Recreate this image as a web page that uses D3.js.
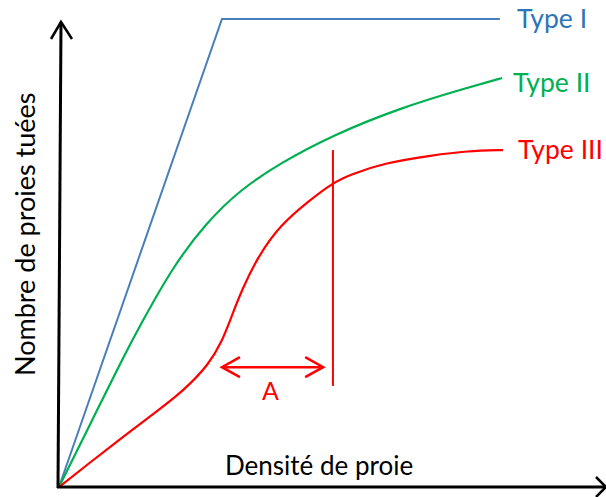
<!DOCTYPE html>
<html>
<head>
<meta charset="utf-8">
<script src="https://cdn.jsdelivr.net/npm/d3@7/dist/d3.min.js"></script>
<style>
  html, body { margin: 0; padding: 0; background: #fff; }
  svg { display: block; }
  text { font-family: Lato, "Open Sans", sans-serif; }
</style>
</head>
<body>
<svg id="chart" width="606" height="497"></svg>
<script>
// ---- Data (prey density vs. prey killed, arbitrary units 0-10) ----
const seriesNames = ["Type I", "Type II", "Type III"];
const typeIx = [0, 3.67, 9.93];
const typeIy = [0, 10, 10];
const typeIIx = [0, 0.68, 1.44, 1.82, 2.57, 3.33, 4.08, 4.98, 6.17, 7.68, 9.19, 9.98];
const typeIIy = [0, 1.30, 2.76, 3.44, 4.72, 5.66, 6.35, 6.92, 7.52, 8.10, 8.53, 8.74];
const typeIIIx = [0, 0.68, 1.44, 2.18, 2.64, 2.95, 3.36, 3.67, 3.90, 4.12, 4.46, 4.98, 5.65, 6.17, 6.55, 7.30, 8.42, 9.19, 10.0];
const typeIIIy = [0, 0.51, 1.07, 1.60, 1.94, 2.20, 2.61, 3.10, 3.68, 4.21, 4.89, 5.60, 6.13, 6.50, 6.67, 6.92, 7.09, 7.18, 7.20];
// annotation: threshold line and range "A"
const thresholdX = [6.17];
const thresholdY = [2.16, 7.20];
const rangeAx = [3.67, 5.95];
const rangeAy = [2.56];
const rangeLabel = ["A"];
const axisLabels = ["Densité de proie", "Nombre de proies tuées"];

const svg = d3.select("#chart");
const x = d3.scaleLinear().domain([0, 10]).range([59, 503]);
const y = d3.scaleLinear().domain([0, 10]).range([487, 19]);

const colors = { line1: "#4a7ebb", text1: "#2e75b6", green: "#00b050", red: "#ff0000" };

const line = d3.line().x(d => x(d[0])).y(d => y(d[1]));
const smooth = d3.line().x(d => x(d[0])).y(d => y(d[1])).curve(d3.curveBasis);

// Type I
svg.append("path").datum(d3.zip(typeIx, typeIy)).attr("d", line)
  .attr("fill", "none").attr("stroke", colors.line1).attr("stroke-width", 2);
// Type II
svg.append("path").datum(d3.zip(typeIIx, typeIIy)).attr("d", smooth)
  .attr("fill", "none").attr("stroke", colors.green).attr("stroke-width", 2.2);
// Type III
svg.append("path").datum(d3.zip(typeIIIx, typeIIIy)).attr("d", smooth)
  .attr("fill", "none").attr("stroke", colors.red).attr("stroke-width", 2.2);

// threshold vertical line
svg.append("line")
  .attr("x1", x(thresholdX[0])).attr("x2", x(thresholdX[0]))
  .attr("y1", y(thresholdY[0])).attr("y2", y(thresholdY[1]))
  .attr("stroke", colors.red).attr("stroke-width", 2);

// double arrow A
const ay = y(rangeAy[0]), ax1 = x(rangeAx[0]), ax2 = x(rangeAx[1]);
svg.append("line").attr("x1", ax1).attr("x2", ax2).attr("y1", ay).attr("y2", ay)
  .attr("stroke", colors.red).attr("stroke-width", 2.5);
svg.append("path")
  .attr("d", `M${ax1 + 18},${ay - 10} L${ax1},${ay} L${ax1 + 18},${ay + 10}`)
  .attr("fill", "none").attr("stroke", colors.red).attr("stroke-width", 2.5);
svg.append("path")
  .attr("d", `M${ax2 - 18},${ay - 10} L${ax2},${ay} L${ax2 - 18},${ay + 10}`)
  .attr("fill", "none").attr("stroke", colors.red).attr("stroke-width", 2.5);
svg.append("text").attr("x", (ax1 + ax2) / 2 - 2).attr("y", 400)
  .attr("text-anchor", "middle").attr("font-size", 25).attr("fill", colors.red)
  .text(rangeLabel[0]);

// axes
const x0 = x(0), y0 = y(0);
svg.append("line").attr("x1", x0 - 1).attr("y1", y0 + 1).attr("x2", 61).attr("y2", 22)
  .attr("stroke", "#000").attr("stroke-width", 3);
svg.append("path").attr("d", `M51,39 L61,22 L72,39`)
  .attr("fill", "none").attr("stroke", "#000").attr("stroke-width", 2.5);
svg.append("line").attr("x1", x0 - 2).attr("y1", y0).attr("x2", 606).attr("y2", y0)
  .attr("stroke", "#000").attr("stroke-width", 3);
svg.append("path").attr("d", `M596,${y0 - 10} L606,${y0} L596,${y0 + 10}`)
  .attr("fill", "none").attr("stroke", "#000").attr("stroke-width", 2.5);

// axis labels
svg.append("text").attr("x", 225).attr("y", 475).attr("font-size", 26).attr("fill", "#000")
  .text(axisLabels[0]);
svg.append("text").attr("transform", "translate(35,376) rotate(-90)")
  .attr("font-size", 27).attr("fill", "#000").text(axisLabels[1]);

// series labels
const labelPos = [[517, 28, colors.text1], [513, 92, colors.green], [518, 159, colors.red]];
seriesNames.forEach((n, i) => {
  svg.append("text").attr("x", labelPos[i][0]).attr("y", labelPos[i][1])
    .attr("font-size", 26.5).attr("fill", labelPos[i][2]).text(n);
});
</script>
</body>
</html>
